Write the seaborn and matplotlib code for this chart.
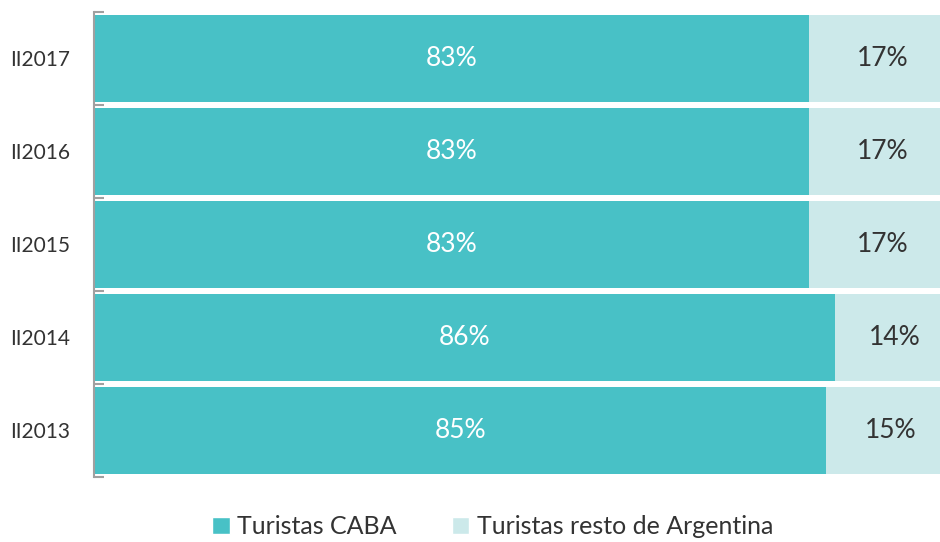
import pandas as pd
import numpy as np
import matplotlib.pyplot as plt
import seaborn as sns
from matplotlib.patches import Patch

# Data
periodos = ['II2017', 'II2016', 'II2015', 'II2014', 'II2013']
caba = [0.83, 0.83, 0.83, 0.86, 0.85]
resto = [0.17, 0.17, 0.17, 0.14, 0.15]

color_caba = '#48C1C6'
color_resto = '#CCE9EA'

sns.set_theme(style='white')
plt.rcParams['font.family'] = ['Lato', 'DejaVu Sans']

df = pd.DataFrame({'periodo': periodos, 'caba': caba, 'resto': resto})
df['total'] = df['caba'] + df['resto']

fig = plt.figure(figsize=(9.4, 5.42), dpi=100)
ax = fig.add_axes([0.1, 0.12, 0.9, 0.858])

# stacked bars: full bar in light color, CABA on top
sns.barplot(data=df, y='periodo', x='total', order=periodos, color=color_resto,
            width=0.935, saturation=1, linewidth=0, ax=ax)
sns.barplot(data=df, y='periodo', x='caba', order=periodos, color=color_caba,
            width=0.935, saturation=1, linewidth=0, ax=ax)

ax.set_xlim(0, 0.982)
ax.set_ylim(len(periodos) - 0.5, -0.5)

# value labels
for i, row in df.iterrows():
    ax.text(row['caba'] / 2, i, f"{row['caba'] * 100:.0f}%", ha='center', va='center',
            color='white', fontsize=19)
    ax.text(row['caba'] + row['resto'] / 2, i, f"{row['resto'] * 100:.0f}%", ha='center',
            va='center', color='#333333', fontsize=19)

# axes styling
for s in ['top', 'right', 'bottom']:
    ax.spines[s].set_visible(False)
ax.spines['left'].set_color('#A0A0A0')
ax.spines['left'].set_linewidth(1.5)
ax.set_xticks([])
ax.set_xlabel('')
ax.set_ylabel('')
ax.tick_params(axis='y', which='major', length=0, pad=17, labelsize=15, labelcolor='#333333')
ax.set_yticks(np.arange(-0.5, len(periodos), 1.0), minor=True)
ax.tick_params(axis='y', which='minor', direction='in', length=7, width=1.5, color='#A0A0A0', left=True)

handles = [Patch(facecolor=color_caba, label='Turistas CABA'),
           Patch(facecolor=color_resto, label='Turistas resto de Argentina')]
fig.legend(handles=handles, loc='center', bbox_to_anchor=(0.524, 0.028), ncol=2,
           frameon=False, fontsize=18, handlelength=0.7, handleheight=0.7,
           columnspacing=2.2, handletextpad=0.3, labelcolor='#333333')

fig.savefig('out.png', dpi=100)
